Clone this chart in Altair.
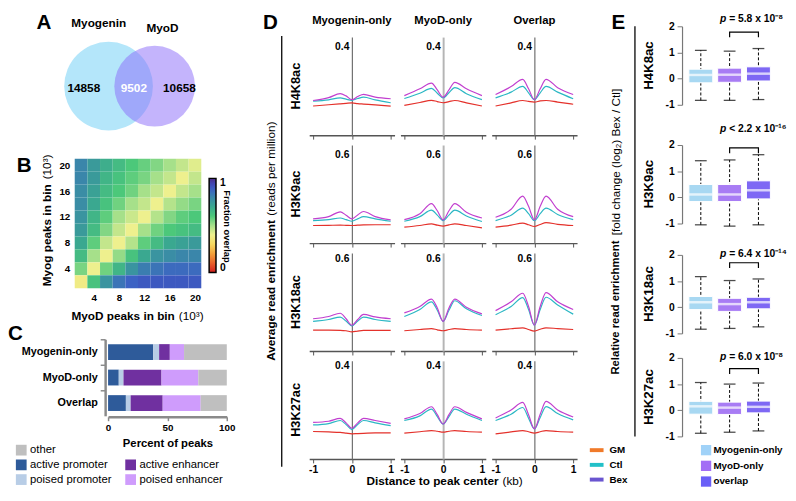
import math
import altair as alt
import pandas as pd

FONT = "Liberation Sans"
ONE = pd.DataFrame({"o": [0]})
W, H = 780, 484

# ---------------- data: panel A (Venn) ----------------
VENN_SETS = ["Myogenin", "MyoD"]
VENN_ONLY = [14858, 10658]
VENN_BOTH = 9502
VENN_POS = [0.0, 1.0]
VENN_COLORS = ["#b4e6fa", "#8969f9"]

# ---------------- data: panel B (heatmap) ----------------
HEAT_X = [2, 4, 6, 8, 10, 12, 14, 16, 18, 20]
HEAT_Y = [20, 18, 16, 14, 12, 10, 8, 6, 4, 2]  # rows listed top to bottom
HEAT = [
    [0.80, 0.74, 0.68, 0.64, 0.60, 0.57, 0.54, 0.50, 0.46, 0.42],
    [0.80, 0.74, 0.66, 0.62, 0.58, 0.55, 0.50, 0.46, 0.40, 0.46],
    [0.78, 0.72, 0.64, 0.60, 0.56, 0.50, 0.46, 0.40, 0.46, 0.50],
    [0.78, 0.70, 0.62, 0.56, 0.50, 0.46, 0.40, 0.48, 0.52, 0.55],
    [0.76, 0.66, 0.58, 0.50, 0.45, 0.40, 0.48, 0.54, 0.58, 0.60],
    [0.74, 0.64, 0.54, 0.46, 0.40, 0.50, 0.56, 0.60, 0.62, 0.64],
    [0.70, 0.58, 0.46, 0.40, 0.48, 0.58, 0.64, 0.70, 0.72, 0.74],
    [0.64, 0.50, 0.40, 0.52, 0.62, 0.70, 0.76, 0.78, 0.80, 0.80],
    [0.55, 0.40, 0.56, 0.66, 0.76, 0.82, 0.84, 0.86, 0.86, 0.86],
    [0.38, 0.62, 0.76, 0.84, 0.88, 0.90, 0.90, 0.90, 0.90, 0.90],
]
CB_STOPS = [0.0, 0.1, 0.2, 0.3, 0.4, 0.5, 0.6, 0.7, 0.8, 0.88, 0.94, 1.0]
CB_COLORS = ["#d21e1e", "#e8602a", "#f2a03a", "#f6d860", "#eef08e", "#a6e08a",
             "#4cc87a", "#3aa890", "#3a86aa", "#3c62c4", "#3f48b8", "#4b2a84"]

# ---------------- data: panel C (stacked bars) ----------------
C_GROUPS = ["Myogenin-only", "MyoD-only", "Overlap"]
C_CATS = ["active promoter", "poised promoter", "active enhancer", "poised enhancer", "other"]
C_COLORS = ["#2e5b9a", "#b8cde6", "#7030a0", "#cf9cfc", "#bfbfbf"]
C_MYOG = [38, 5, 9, 12, 36]
C_MYOD = [9, 4, 32, 31, 24]
C_OVER = [15, 4, 27, 32, 22]
C_LEG_ORDER = ["other", "active promoter", "poised promoter", "active enhancer", "poised enhancer"]

# ---------------- data: panel D (profiles) ----------------
D_ROWS = ["H4K8ac", "H3K9ac", "H3K18ac", "H3K27ac"]
D_COLS = ["Myogenin-only", "MyoD-only", "Overlap"]
D_SERIES = ["GM", "Ctl", "Bex"]
D_LINE_COLORS = ["#e4312b", "#2bb7c4", "#c13fcf"]
D_LEG_COLORS = ["#f07a2a", "#22c0c8", "#6a55d0"]
D_X = [-1.0, -0.6, -0.3, -0.15, 0.0, 0.15, 0.3, 0.6, 1.0]
D_YTICK = [0.4, 0.6, 0.6, 0.4]
D_YMAX = [0.444, 0.667, 0.638, 0.421]

H4K8AC_GM = [[0.132, 0.138, 0.142, 0.144, 0.146, 0.143, 0.141, 0.137, 0.132],
             [0.135, 0.148, 0.158, 0.152, 0.147, 0.152, 0.157, 0.146, 0.132],
             [0.132, 0.146, 0.157, 0.153, 0.150, 0.155, 0.157, 0.150, 0.140]]
H4K8AC_CTL = [[0.154, 0.160, 0.169, 0.163, 0.158, 0.166, 0.172, 0.160, 0.147],
              [0.166, 0.190, 0.212, 0.190, 0.169, 0.192, 0.215, 0.188, 0.161],
              [0.169, 0.195, 0.221, 0.192, 0.161, 0.192, 0.221, 0.195, 0.165]]
H4K8AC_BEX = [[0.157, 0.170, 0.188, 0.178, 0.161, 0.175, 0.185, 0.172, 0.165],
              [0.179, 0.210, 0.236, 0.205, 0.172, 0.205, 0.239, 0.210, 0.179],
              [0.184, 0.220, 0.253, 0.210, 0.161, 0.210, 0.253, 0.215, 0.184]]

H3K9AC_GM = [[0.120, 0.121, 0.122, 0.121, 0.120, 0.122, 0.124, 0.125, 0.125],
             [0.109, 0.120, 0.131, 0.122, 0.116, 0.124, 0.131, 0.120, 0.104],
             [0.109, 0.122, 0.136, 0.125, 0.113, 0.127, 0.140, 0.128, 0.120]]
H3K9AC_CTL = [[0.153, 0.160, 0.171, 0.160, 0.149, 0.165, 0.180, 0.165, 0.149],
              [0.149, 0.180, 0.224, 0.190, 0.153, 0.190, 0.224, 0.185, 0.147],
              [0.153, 0.190, 0.238, 0.200, 0.153, 0.200, 0.238, 0.195, 0.160]]
H3K9AC_BEX = [[0.165, 0.180, 0.213, 0.190, 0.165, 0.192, 0.215, 0.180, 0.158],
              [0.160, 0.200, 0.269, 0.220, 0.158, 0.220, 0.269, 0.210, 0.171],
              [0.176, 0.230, 0.320, 0.250, 0.158, 0.250, 0.320, 0.230, 0.180]]

H3K18AC_GM = [[0.136, 0.136, 0.135, 0.132, 0.125, 0.130, 0.134, 0.135, 0.134],
              [0.132, 0.140, 0.146, 0.138, 0.132, 0.140, 0.146, 0.140, 0.136],
              [0.136, 0.145, 0.151, 0.140, 0.130, 0.142, 0.151, 0.146, 0.140]]
H3K18AC_CTL = [[0.193, 0.205, 0.221, 0.195, 0.164, 0.195, 0.221, 0.205, 0.193],
               [0.225, 0.270, 0.320, 0.265, 0.193, 0.265, 0.327, 0.275, 0.231],
               [0.236, 0.290, 0.348, 0.270, 0.168, 0.270, 0.350, 0.300, 0.240]]
H3K18AC_BEX = [[0.210, 0.225, 0.246, 0.210, 0.168, 0.205, 0.238, 0.222, 0.210],
               [0.248, 0.290, 0.338, 0.280, 0.193, 0.280, 0.338, 0.285, 0.242],
               [0.263, 0.320, 0.376, 0.290, 0.168, 0.290, 0.380, 0.320, 0.270]]

H3K27AC_GM = [[0.118, 0.116, 0.114, 0.111, 0.108, 0.109, 0.110, 0.112, 0.112],
              [0.111, 0.117, 0.122, 0.119, 0.115, 0.119, 0.122, 0.118, 0.115],
              [0.108, 0.116, 0.122, 0.117, 0.111, 0.117, 0.122, 0.118, 0.115]]
H3K27AC_CTL = [[0.146, 0.152, 0.165, 0.148, 0.126, 0.148, 0.165, 0.155, 0.143],
               [0.165, 0.185, 0.214, 0.182, 0.150, 0.182, 0.214, 0.192, 0.165],
               [0.165, 0.192, 0.221, 0.175, 0.129, 0.178, 0.225, 0.195, 0.168]]
H3K27AC_BEX = [[0.157, 0.162, 0.174, 0.155, 0.132, 0.155, 0.174, 0.165, 0.153],
               [0.172, 0.195, 0.224, 0.190, 0.150, 0.190, 0.224, 0.200, 0.172],
               [0.176, 0.210, 0.243, 0.190, 0.129, 0.192, 0.247, 0.210, 0.180]]

# ---------------- data: panel E (box plots) ----------------
E_GROUPS = ["Myogenin-only", "MyoD-only", "overlap"]
E_BOX_COLORS = ["#a8d8f2", "#a87cf4", "#7e68f4"]
E_LEG_COLORS = ["#a0d2f8", "#a36ef5", "#6a5ff7"]
# [lower whisker, q1, median, q3, upper whisker] per group
H4K8AC_BOX = [[-0.83, -0.16, 0.14, 0.36, 1.08], [-0.83, -0.14, 0.15, 0.40, 1.05], [-0.80, -0.09, 0.19, 0.45, 1.15]]
H3K9AC_BOX = [[-1.05, -0.16, 0.11, 0.49, 1.40], [-1.10, -0.16, 0.11, 0.49, 1.43], [-1.05, -0.06, 0.27, 0.63, 1.63]]
H3K18AC_BOX = [[-0.84, -0.09, 0.19, 0.41, 1.17], [-0.81, -0.16, 0.12, 0.34, 1.02], [-0.75, -0.06, 0.19, 0.38, 1.08]]
H3K27AC_BOX = [[-0.88, -0.15, 0.15, 0.34, 1.06], [-0.84, -0.16, 0.10, 0.31, 1.00], [-0.79, -0.10, 0.13, 0.35, 1.04]]
E_P_TEXT = ["= 5.8 x 10\u207b\u2078", "< 2.2 x 10\u207b\u00b9\u2076", "= 6.4 x 10\u207b\u00b9\u2074", "= 6.0 x 10\u207b\u2078"]
E_P_Y = [2.26, 2.6, 2.04, 2.04]
E_BRACKET_Y = [1.78, 1.89, 1.70, 1.59]

D_DATA = {
    "H4K8ac": {"GM": H4K8AC_GM, "Ctl": H4K8AC_CTL, "Bex": H4K8AC_BEX},
    "H3K9ac": {"GM": H3K9AC_GM, "Ctl": H3K9AC_CTL, "Bex": H3K9AC_BEX},
    "H3K18ac": {"GM": H3K18AC_GM, "Ctl": H3K18AC_CTL, "Bex": H3K18AC_BEX},
    "H3K27ac": {"GM": H3K27AC_GM, "Ctl": H3K27AC_CTL, "Bex": H3K27AC_BEX},
}
E_STATS = [H4K8AC_BOX, H3K9AC_BOX, H3K18AC_BOX, H3K27AC_BOX]

MINUS_FIX = "replace(datum.label, '\u2212', '-')"

# ---------------- layout (canvas pixels) ----------------
A_RANGE = [32, 220]
B_XR, B_YR = [68, 197], [281, 149]
C_XR, C_YR = [102, 223], [333, 411]
D_X0 = [307, 400, 493]
D_Y0 = [25, 135, 245, 355]
D_W, D_H = 87, 100
E_X0, E_W, E_H = 691, 89, 80
E_Y0 = [14, 135, 247, 352]


def lbl(text, x, y, size=11.0, bold=False, angle=None, align="left",
        baseline="middle", italic=False, color="black"):
    props = dict(text=text, fontSize=size, fontWeight="bold" if bold else "normal",
                 align=align, baseline=baseline, color=color, font=FONT)
    if angle is not None:
        props["angle"] = angle
    if italic:
        props["fontStyle"] = "italic"
    return alt.Chart(ONE).mark_text(**props).encode(x=alt.value(x), y=alt.value(y))


def vrule(x, y0, y1, width=1.3):
    return alt.Chart(ONE).mark_rule(color="black", strokeWidth=width).encode(
        x=alt.value(x), y=alt.value(y0), y2=alt.value(y1))


parts = []

# ================= Panel A =================
A_DOM = [-1.5, 2.5]
PXU = (A_RANGE[1] - A_RANGE[0]) / (A_DOM[1] - A_DOM[0])
SIZE_MAX = 8170
venn_tot = [VENN_ONLY[0] + VENN_BOTH, VENN_ONLY[1] + VENN_BOTH]
venn_r = [math.sqrt(SIZE_MAX * t / max(venn_tot) / math.pi) / PXU for t in venn_tot]
p0, p1 = VENN_POS
cnt_x = [((p0 - venn_r[0]) + (p1 - venn_r[1])) / 2,
         ((p1 - venn_r[1]) + (p0 + venn_r[0])) / 2,
         ((p0 + venn_r[0]) + (p1 + venn_r[1])) / 2]
xA = alt.X("pos:Q", scale=alt.Scale(domain=A_DOM, range=A_RANGE, nice=False, zero=False), axis=None)
venn_df = pd.DataFrame({"set": VENN_SETS, "pos": VENN_POS, "total": venn_tot})
circ = alt.Chart(venn_df).mark_circle().encode(
    x=xA, y=alt.value(75),
    size=alt.Size("total:Q", scale=alt.Scale(domain=[0, max(venn_tot)], range=[0, SIZE_MAX]), legend=None),
    color=alt.Color("set:N", scale=alt.Scale(domain=VENN_SETS, range=VENN_COLORS), legend=None),
    opacity=alt.Opacity("set:O", scale=alt.Scale(domain=VENN_SETS, range=[1.0, 0.5]), legend=None),
)
cnt_df = pd.DataFrame({"pos": cnt_x, "n": [str(VENN_ONLY[0]), str(VENN_BOTH), str(VENN_ONLY[1])],
                       "w": [0, 1, 0]})
cnt_black = alt.Chart(cnt_df).transform_filter("datum.w == 0").mark_text(
    fontSize=12, fontWeight="bold", color="black", font=FONT).encode(x=xA, y=alt.value(77), text="n:N")
cnt_white = alt.Chart(cnt_df).transform_filter("datum.w == 1").mark_text(
    fontSize=12, fontWeight="bold", color="white", font=FONT).encode(x=xA, y=alt.value(77), text="n:N")
set_lbls = []
for s, yy, dx in zip(VENN_SETS, [11, 16], [-10, 8]):
    set_lbls.append(alt.Chart(venn_df).transform_filter(f"datum.set == '{s}'").mark_text(
        fontSize=12, fontWeight="bold", color="black", font=FONT, dx=dx).encode(
        x=xA, y=alt.value(yy), text="set:N"))
parts.append(alt.layer(circ, cnt_black, cnt_white, *set_lbls))

# ================= Panel B =================
heat_rec = []
for i, yb in enumerate(HEAT_Y):
    for j, xb in enumerate(HEAT_X):
        heat_rec.append({"mx": xb, "my": yb, "f": HEAT[i][j]})
heat_df = pd.DataFrame(heat_rec)
b_axis = dict(domain=False, ticks=False, labelFontWeight="bold", labelFontSize=10, labelColor="black",
              title=None, grid=False, values=[4, 8, 12, 16, 20], labelFlush=False)
heat = alt.Chart(heat_df).transform_calculate(
    x0="datum.mx - 1", x1="datum.mx + 1", y0="datum.my - 1", y1="datum.my + 1"
).mark_rect().encode(
    x=alt.X("x0:Q", scale=alt.Scale(domain=[1, 21], range=B_XR, nice=False, zero=False),
            axis=alt.Axis(orient="bottom", offset=B_YR[0] - H, labelPadding=4, **b_axis)),
    x2="x1:Q",
    y=alt.Y("y0:Q", scale=alt.Scale(domain=[1, 21], range=B_YR, nice=False, zero=False),
            axis=alt.Axis(orient="left", offset=-B_XR[0], labelPadding=5, **b_axis)),
    y2="y1:Q",
    color=alt.Color("f:Q", scale=alt.Scale(domain=CB_STOPS, range=CB_COLORS, interpolate="rgb"),
                    legend=alt.Legend(orient="none", legendX=205, legendY=169, direction="vertical",
                                      gradientLength=96, gradientThickness=7, values=[0, 1], format="d",
                                      title=None, labelFont=FONT,
                                      labelFontSize=10.5, labelFontWeight="bold", labelColor="black",
                                      gradientStrokeColor="black", gradientStrokeWidth=1.5,
                                      labelOffset=4)),
)
parts.append(heat)
parts += [
    lbl("MyoD peaks in bin", 170, 309, size=12, bold=True, align="right"),
    lbl("(10\u00b3)", 174, 309, size=12),
    lbl("Myog  peaks in bin", 40, 175, size=12, bold=True, align="right", angle=270),
    lbl("(10\u00b3)", 40, 170, size=12, angle=270),
    lbl("Fraction overlap", 223, 218, size=9.5, bold=True, align="center", angle=90),
]

# ================= Panel C =================
c_rec = []
for g, vals in zip(C_GROUPS, [C_MYOG, C_MYOD, C_OVER]):
    for k, (cat, v) in enumerate(zip(C_CATS, vals)):
        c_rec.append({"group": g, "cat": cat, "pct": v, "ord": k})
c_df = pd.DataFrame(c_rec)
bars = alt.Chart(c_df).mark_bar().encode(
    x=alt.X("pct:Q", stack="zero", scale=alt.Scale(domain=[0, 100], range=C_XR, nice=False),
            axis=alt.Axis(orient="bottom", offset=C_YR[1] + 1 - H, values=[0, 50, 100],
                          title="Percent of peaks", titleFontWeight="bold",
                          titleFontSize=11.5, titleColor="black", titlePadding=5,
                          domainColor="#8a8a8a", domainWidth=2.5, tickColor="#8a8a8a", tickSize=4,
                          tickWidth=1.5, labelFontSize=10, labelFontWeight="bold", labelColor="black",
                          grid=False, labelFlush=False)),
    y=alt.Y("group:N", sort=C_GROUPS, scale=alt.Scale(range=C_YR, paddingInner=0.38, paddingOuter=0.19),
            axis=alt.Axis(orient="left", offset=-(C_XR[0] - 3), title=None, domainColor="#8a8a8a",
                          domainWidth=2.5, tickColor="#8a8a8a",
                          tickWidth=1.5, tickSize=5, bandPosition=0.5, tickOffset=-13, labelOffset=13,
                          labelFontSize=11, labelFontWeight="bold", labelColor="black",
                          labelPadding=3)),
    color=alt.Color("cat:N", scale=alt.Scale(domain=C_CATS, range=C_COLORS), legend=None),
    order=alt.Order("ord:Q"),
)
parts.append(bars)

cleg_df = pd.DataFrame({"cat": C_LEG_ORDER, "col": [0, 0, 0, 1, 1], "row": [0, 1, 2, 1, 2]})
cl_x = alt.X("col:Q", scale=alt.Scale(domain=[0, 1], range=[13.5, 125]), axis=None)
cl_y = alt.Y("row:Q", scale=alt.Scale(domain=[0, 2], range=[446, 476]), axis=None)
parts.append(alt.layer(
    alt.Chart(cleg_df).mark_square(size=120, opacity=1).encode(
        x=cl_x, y=cl_y, color=alt.Color("cat:N", scale=alt.Scale(domain=C_CATS, range=C_COLORS), legend=None)),
    alt.Chart(cleg_df).mark_text(align="left", dx=9, fontSize=11.5, font=FONT, color="black").encode(
        x=cl_x, y=cl_y, text="cat:N"),
))


# ================= Panel D =================
def d_panel(r, c):
    x0, y0 = D_X0[c], D_Y0[r]
    rec = []
    for s in D_SERIES:
        for x, v in zip(D_X, D_DATA[D_ROWS[r]][s][c]):
            rec.append({"x": x, "v": v, "s": s})
    df = pd.DataFrame(rec)
    line_col = "#b5b5b5" if c == 1 else "#6e6e6e"
    line_w = 2 if c == 1 else 1.2
    xaxis = alt.Axis(orient="bottom", offset=(y0 + D_H) - H, values=[-1, 0, 1], title=None, grid=False,
                     domainColor="#555555", domainWidth=1.5,
                     tickColor="#555555", tickSize=4, labels=(r == 3), labelFontSize=10.5,
                     labelFontWeight="bold", labelColor="black", labelPadding=2, labelFlush=False,
                     labelExpr=MINUS_FIX)
    yaxis = alt.Axis(orient="left", offset=-(x0 + D_W / 2), values=[D_YTICK[r]], format=".1f", title=None,
                     grid=False, ticks=False,
                     domainColor=line_col, domainWidth=line_w, labelFontSize=10.5, labelFontWeight="bold",
                     labelColor="black", labelPadding=3)
    return alt.Chart(df).mark_line(strokeWidth=1.2, interpolate="monotone").encode(
        x=alt.X("x:Q", scale=alt.Scale(domain=[-1.1, 1.1], range=[x0, x0 + D_W], nice=False, zero=False),
                axis=xaxis),
        y=alt.Y("v:Q", scale=alt.Scale(domain=[0, D_YMAX[r]], range=[y0 + D_H, y0], nice=False), axis=yaxis),
        color=alt.Color("s:N", scale=alt.Scale(domain=D_SERIES, range=D_LINE_COLORS), legend=None),
    )


for r in range(4):
    for c in range(3):
        parts.append(d_panel(r, c))
for c in range(3):
    parts.append(lbl(D_COLS[c], D_X0[c] + D_W / 2, 9, size=11.5, bold=True, align="center"))
for r in range(4):
    parts.append(lbl(D_ROWS[r], 294, D_Y0[r] + D_H / 2, size=13, bold=True, align="center", angle=270))
parts += [
    vrule(279, 24, 463),
    lbl("Average read enrichment", 268, 355, size=12, bold=True, angle=270),
    lbl("(reads per million)", 268, 207, size=12, angle=270),
    lbl("Distance to peak center", 500, 478, size=12, bold=True, align="right"),
    lbl("(kb)", 504, 478, size=12),
]

dleg_df = pd.DataFrame({"s": D_SERIES, "i": [0, 1, 2]})
dy = alt.Y("i:Q", scale=alt.Scale(domain=[0, 2], range=[446, 476]), axis=None)
parts.append(alt.layer(
    alt.Chart(dleg_df).mark_rule(strokeWidth=4).encode(
        x=alt.value(593), x2=alt.value(607), y=dy,
        color=alt.Color("s:N", scale=alt.Scale(domain=D_SERIES, range=D_LEG_COLORS), legend=None)),
    alt.Chart(dleg_df).mark_text(align="left", fontSize=10, fontWeight="bold", font=FONT, color="black").encode(
        x=alt.value(613), y=dy, text="s:N"),
))


# ================= Panel E =================
def e_panel(i):
    y0 = E_Y0[i]
    st = E_STATS[i]
    df = pd.DataFrame({"g": E_GROUPS, "lo": [s[0] for s in st], "q1": [s[1] for s in st],
                       "med": [s[2] for s in st], "q3": [s[3] for s in st], "hi": [s[4] for s in st]})
    caps = pd.DataFrame({"g": E_GROUPS * 2, "v": [s[0] for s in st] + [s[4] for s in st]})
    xs = alt.X("g:N", sort=E_GROUPS, scale=alt.Scale(domain=E_GROUPS, range=[E_X0, E_X0 + E_W],
                                                     paddingInner=0.17, paddingOuter=0.1), axis=None)
    ysc = alt.Scale(domain=[-1, 2], range=[y0 + E_H, y0], nice=False, zero=False)
    yax = alt.Axis(orient="left", offset=-(E_X0 - 4), values=[-1, 0, 1, 2], format="d", title=None, grid=False,
                   domainColor="#777777", domainWidth=1.2,
                   tickColor="#777777", tickSize=5, labelFontSize=10.5, labelFontWeight="bold",
                   labelColor="black", labelPadding=3, labelExpr=MINUS_FIX)
    whisk = alt.Chart(df).mark_rule(color="black", strokeWidth=1, strokeDash=[3, 2]).encode(
        x=xs, y=alt.Y("lo:Q", scale=ysc, axis=yax), y2="hi:Q")
    capm = alt.Chart(caps).mark_tick(color="black", thickness=1.3, size=12).encode(
        x=xs, y=alt.Y("v:Q", scale=ysc))
    box = alt.Chart(df).mark_bar(stroke="white", strokeWidth=1).encode(
        x=xs, y=alt.Y("q1:Q", scale=ysc), y2="q3:Q",
        color=alt.Color("g:N", scale=alt.Scale(domain=E_GROUPS, range=E_BOX_COLORS), legend=None))
    med = alt.Chart(df).mark_tick(color="white", thickness=2.5, size=24).encode(
        x=xs, y=alt.Y("med:Q", scale=ysc))
    by = E_BRACKET_Y[i]
    br = pd.DataFrame({"g": ["MyoD-only", "MyoD-only", "overlap", "overlap"],
                       "v": [by - 0.2, by, by, by - 0.2], "o": [0, 1, 2, 3]})
    brk = alt.Chart(br).mark_line(color="black", strokeWidth=1.2).encode(
        x=xs, y=alt.Y("v:Q", scale=ysc), order="o:Q")
    p1t = alt.Chart(ONE).mark_text(text="p", fontStyle="italic", fontWeight="bold", fontSize=10.5,
                                   align="right", baseline="middle", font=FONT, color="black").encode(
        x=alt.value(E_X0 + 41), y=alt.datum(E_P_Y[i]))
    p2t = alt.Chart(ONE).mark_text(text=E_P_TEXT[i], fontWeight="bold", fontSize=10.5,
                                   align="left", baseline="middle", font=FONT, color="black").encode(
        x=alt.value(E_X0 + 44), y=alt.datum(E_P_Y[i]))
    return alt.layer(whisk, capm, box, med, brk, p1t, p2t)


for i in range(4):
    parts.append(e_panel(i))
    parts.append(lbl(D_ROWS[i], 653, E_Y0[i] + E_H / 2, size=13.5, bold=True, align="center", angle=270))
parts += [
    vrule(639, 14, 432),
    lbl("Relative read enrichment", 620, 369, size=11.5, bold=True, angle=270),
    lbl("[fold change (log\u2082) Bex / Ctl]", 620, 227, size=12, angle=270),
]
eleg_df = pd.DataFrame({"g": E_GROUPS, "i": [0, 1, 2]})
ey = alt.Y("i:Q", scale=alt.Scale(domain=[0, 2], range=[446, 478]), axis=None)
parts.append(alt.layer(
    alt.Chart(eleg_df).mark_square(size=110, opacity=1).encode(
        x=alt.value(711.5), y=ey,
        color=alt.Color("g:N", scale=alt.Scale(domain=E_GROUPS, range=E_LEG_COLORS), legend=None)),
    alt.Chart(eleg_df).mark_text(align="left", fontSize=10, fontWeight="bold", font=FONT, color="black").encode(
        x=alt.value(719), y=ey, text="g:N"),
))

# panel letters
for t, x in zip(["A", "B", "C", "D", "E"], [29, 9, 0, 260, 615]):
    y = {"A": 0, "B": 145, "C": 317, "D": 0, "E": 0}[t]
    parts.append(lbl(t, x, y, size=21, bold=True, baseline="top"))

chart = alt.layer(*parts).resolve_scale(
    x="independent", y="independent", color="independent", size="independent", opacity="independent"
).properties(width=W, height=H, padding=0).configure(font=FONT).configure_view(stroke=None)

chart.save("out.html", embed_options={"renderer": "svg", "actions": False})
